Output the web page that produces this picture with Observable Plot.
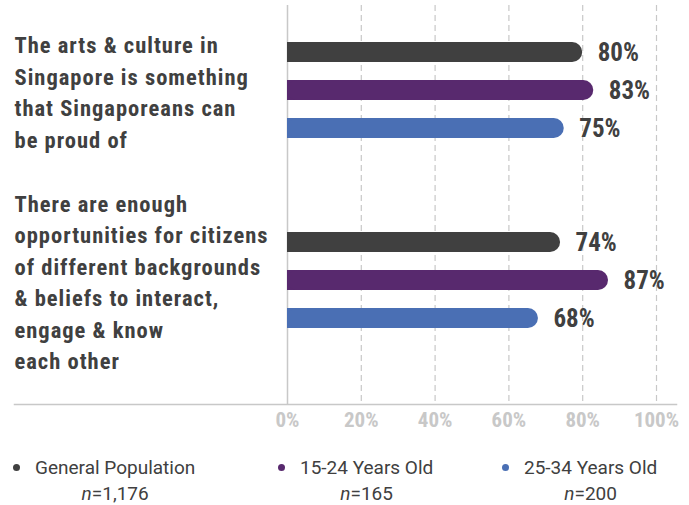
<!DOCTYPE html>
<html>
<head>
<meta charset="utf-8">
<script src="https://cdn.jsdelivr.net/npm/d3@7"></script>
<script src="https://cdn.jsdelivr.net/npm/@observablehq/plot@0.6"></script>
<style>
  body { margin: 0; background: #fff; }
  #wrap { width: 689px; position: relative; font-family: 'Roboto Condensed', 'Roboto', sans-serif; }
  #legend { position: relative; height: 65px; color: #404040; font-family: 'Roboto', sans-serif; font-size: 19px; }
  .item { position: absolute; top: 16px; }
  .row1 { display: flex; align-items: center; white-space: nowrap; height: 22px; }
  .dot { width: 7px; height: 7px; border-radius: 50%; margin-right: 15px; }
  .n { text-align: center; margin-top: 4px; }
</style>
</head>
<body>
<div id="wrap"><div id="chart"></div><div id="legend"></div></div>
<script>
const questions = [
  "The arts & culture in\nSingapore is something\nthat Singaporeans can\nbe proud of",
  "There are enough\nopportunities for citizens\nof different backgrounds\n& beliefs to interact,\nengage & know\neach other"
];
const series = ["General Population", "15-24 Years Old", "25-34 Years Old"];
const sampleSizes = ["1,176", "165", "200"];
const colors = ["#404040", "#58296e", "#4a6fb4"];
const values = [[80, 83, 75], [74, 87, 68]];
const xTicks = [0, 20, 40, 60, 80, 100];

const data = questions.flatMap((q, qi) => series.map((s, si) => ({
  question: q, series: s, key: qi + "|" + s, value: values[qi][si]
})));
const yDomain = [
  ...series.map(s => "0|" + s), "spacer-a", "spacer-b", ...series.map(s => "1|" + s)
];
const labelRows = questions.map((q, qi) => ({question: q, key: qi + "|" + series[1]}));

const font = "'Roboto Condensed', 'Roboto', sans-serif";

const chart = Plot.plot({
  width: 689,
  height: 440,
  marginLeft: 287,
  marginRight: 33,
  marginTop: 5,
  marginBottom: 36,
  style: {fontFamily: font, background: "#fff"},
  x: {domain: [0, 100], axis: null},
  y: {domain: yDomain, range: [21.5, 347.5], padding: 0.48, axis: null},
  color: {domain: series, range: colors},
  marks: [
    Plot.ruleX(xTicks.filter(d => d > 0), {stroke: "#c8c8c8", strokeWidth: 1.2, strokeDasharray: "6,4"}),
    Plot.ruleX([0], {stroke: "#c8c8c8", strokeWidth: 1.5}),
    Plot.frame({anchor: "bottom", stroke: "#c8c8c8", strokeWidth: 1.5, insetLeft: -273, insetRight: -20}),
    Plot.barX(data, {x1: 0, x2: d => d.value / 2, y: "key", fill: "series"}),
    Plot.barX(data, {x1: 0, x2: "value", y: "key", fill: "series", rx: 10}),
    Plot.text(data, {x: "value", y: "key", text: d => d.value + "%", textAnchor: "start", dx: 15,
      fontSize: 25, fontWeight: "bold", fill: "#404040"}),
    Plot.text(labelRows, {y: "key", text: "question", frameAnchor: "left", dx: -273, textAnchor: "start",
      lineAnchor: "middle", lineHeight: 1.4, fontSize: 22.5, fontWeight: "bold", fill: "#404040"}),
    Plot.axisX(xTicks, {tickSize: 0, tickPadding: 8, tickFormat: d => d + "%", fontSize: 21,
      fontWeight: "bold", color: "#c8c8c8", label: null})
  ]
});
d3.select(chart).selectAll("text")
  .filter(function() { return questions.some(q => q.replace(/\n/g, "") === this.textContent.replace(/\n/g, "")); })
  .style("letter-spacing", "1px");
document.getElementById("chart").appendChild(chart);

const legend = document.getElementById("legend");
const lefts = [13, 278, 502];
series.forEach((s, i) => {
  const item = document.createElement("div");
  item.className = "item";
  item.style.left = lefts[i] + "px";
  item.innerHTML = `<div class="row1"><div class="dot" style="background:${colors[i]}"></div><span class="lbl">${s}</span></div>`;
  const n = document.createElement("div");
  n.className = "n";
  n.innerHTML = `<i>n</i>=${sampleSizes[i]}`;
  n.style.marginLeft = "22px";
  item.appendChild(n);
  legend.appendChild(item);
});
</script>
</body>
</html>
